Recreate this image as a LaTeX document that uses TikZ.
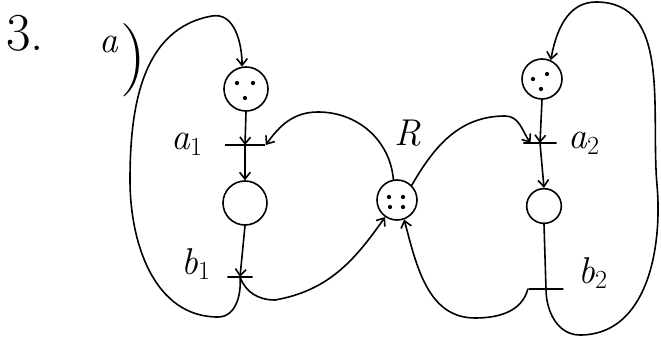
\documentclass[tikz,border=0pt]{standalone}
\usetikzlibrary{arrows.meta}
\newcommand{\lab}[2]{\textit{#1}\textsubscript{#2}}
\begin{document}
\begin{tikzpicture}[x=0.75pt,y=-0.75pt,line width=1.2pt,line cap=round,
  place/.style={circle,draw,inner sep=0pt},
  trans/.style={draw,rectangle,minimum height=0pt,inner sep=0pt},
  tok/.style={circle,fill,inner sep=0pt,minimum size=3.2pt},
  arr/.style={-{Straight Barb[length=5pt,width=8pt]}},
  lbl/.style={font=\fontsize{28}{32}\selectfont}]
\useasboundingbox (0,0) rectangle (661,342);
% places
\node[place,minimum size=33pt] (P1) at (246,89) {};
\node[place,minimum size=33pt] (P2) at (245,203) {};
\node[place,minimum size=30pt] (R) at (397,200) {};
\node[place,minimum size=30pt] (P3) at (542,79) {};
\node[place,minimum size=26pt] (P4) at (544,206) {};
% tokens
\node[tok] (t11) at (237,83) {};
\node[tok] (t12) at (253,83) {};
\node[tok] (t13) at (245,98) {};
\node[tok] (t31) at (533,79) {};
\node[tok] (t32) at (547,74) {};
\node[tok] (t33) at (541,89) {};
\node[tok] (tr1) at (389,197) {};
\node[tok] (tr2) at (403,197) {};
\node[tok] (tr3) at (390,207) {};
\node[tok] (tr4) at (403,207) {};
% transitions
\node[trans,minimum width=30pt] (a1) at (245,145) {};
\node[trans,minimum width=19pt] (b1) at (240,277) {};
\node[trans,minimum width=25pt] (a2) at (540,143) {};
\node[trans,minimum width=26pt] (b2) at (546,289) {};
% labels
\node[lbl] (la1) at (187,144) {\lab{a}{1}};
\node[lbl] (lb1) at (196,264) {\lab{b}{1}};
\node[lbl] (lR) at (408,133) {\textit{R}};
\node[lbl] (la2) at (584,143) {\lab{a}{2}};
\node[lbl] (lb2) at (593,273) {\lab{b}{2}};
\node[font=\fontsize{40}{44}\selectfont] (n3) at (25,33) {3.};
\node[lbl,inner sep=0pt,anchor=base west] (na) at (99,53) {\textit{a}};
\node[inner sep=0pt,anchor=west,font=\fontsize{55}{60}\selectfont] (np) at (120,60) {)};
% waypoints
\coordinate (w1) at (218,317);
\coordinate (w2) at (130,180);
\coordinate (w3) at (212,16);
\coordinate (w4) at (275,300);
\coordinate (w5) at (318,112);
\coordinate (w6) at (505,116);
\coordinate (w7) at (475,318);
\coordinate (w8) at (580,335);
\coordinate (w9) at (657,185);
\coordinate (w10) at (596,2);
% arcs
\draw[arr] (P1.south) -- (a1.center);
\draw[arr] (a1.center) -- (P2.north);
\draw[arr] (P2.south) -- (b1.center);
\draw[arr] (b1.center) to[out=-85,in=0] (w1) to[out=180,in=-90] (w2)
  to[out=90,in=190] (w3) to[out=10,in=90] (P1.100);
\draw[arr] (b1.center) to[out=-70,in=180] (w4) to[out=10,in=235] (R.235);
\draw[arr] (R.100) to[out=95,in=0] (w5) to[out=180,in=55] (a1.east);
\draw[arr] (R.45) to[out=60,in=180] (w6) to[out=0,in=125] ([xshift=6pt]a2.west);
\draw[arr] (P3.south) -- (a2.center);
\draw[arr] (a2.center) -- (P4.north);
\draw (P4.south) -- (b2.center);
\draw[arr] (b2.center) to[out=-90,in=180] (w8) to[out=0,in=-85] (w9)
  to[out=95,in=0] (w10) to[out=180,in=80] (P3.65);
\draw[arr] (b2.west) to[out=-105,in=0] (w7) to[out=180,in=-75] (R.290);
\end{tikzpicture}
\end{document}
